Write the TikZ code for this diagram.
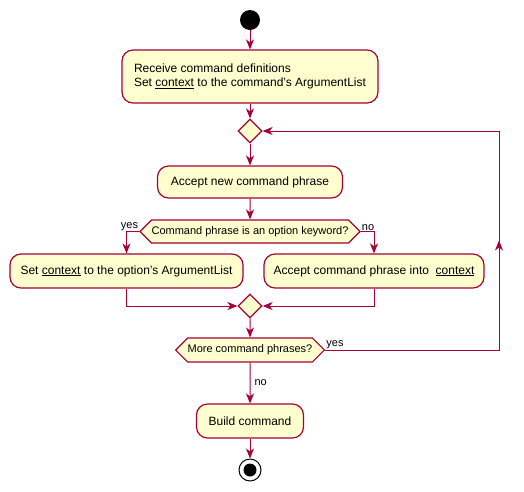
\documentclass[tikz,border=0pt]{standalone}
\usepackage{fontspec}
\setmainfont{Liberation Sans}
\usetikzlibrary{arrows.meta,positioning,calc,shapes.geometric,shapes.symbols}
\definecolor{umlred}{HTML}{A80036}
\definecolor{umlfill}{HTML}{FEFECE}
\tikzset{
  act/.style={draw=umlred, fill=umlfill, line width=1.2pt, rounded corners=11pt,
    inner sep=0pt, font=\fontsize{12}{14}\selectfont},
  branch/.style={draw=umlred, fill=umlfill, line width=1.2pt, diamond, inner sep=0pt,
    minimum width=24pt, minimum height=24pt},
  test/.style={draw=umlred, fill=umlfill, line width=1.2pt, signal, signal to=west and east,
    signal pointer angle=90, inner sep=0pt, font=\fontsize{11}{13}\selectfont},
  flow/.style={draw=umlred, line width=1pt, -{Stealth[length=10pt,width=8pt,inset=3pt]}},
  wire/.style={draw=umlred, line width=1pt},
  lbl/.style={font=\fontsize{11}{13}\selectfont, inner sep=1pt}
}
\begin{document}
\begin{tikzpicture}[x=1pt,y=-1pt]
  \useasboundingbox (0,0) rectangle (524,491);
% Start point
  \node[circle, fill=black, minimum size=20pt, inner sep=0pt] (start) at (250,20) {};
% Read definitions
  \node[act, minimum width=256pt, minimum height=53pt, align=left] (recv) at (250,76.5)
    {Receive command definitions\\Set \underline{context} to the command's ArgumentList};
% Loop entry
  \node[branch] (loop) at (250,131) {};
% Take one phrase
  \node[act, minimum width=185pt, minimum height=32pt] (accept) at (250,182)
    {Accept new command phrase};
% Keyword test
  \node[test, minimum width=217pt, minimum height=23pt] (kw) at (250,231.5)
    {Command phrase is an option keyword?};
% Yes branch
  \node[act, minimum width=233pt, minimum height=34pt] (setctx) at (126.5,271)
    {Set \underline{context} to the option's ArgumentList};
% No branch
  \node[act, minimum width=220pt, minimum height=34pt] (into) at (374,271)
    {Accept command phrase into\ \ \underline{context}};
% Merge
  \node[branch] (merge) at (250,306) {};
% Loop test
  \node[test, minimum width=147pt, minimum height=24pt] (more) at (250,350)
    {More command phrases?};
% Build
  \node[act, minimum width=107pt, minimum height=34pt] (build) at (250,421)
    {Build command};
% End point
  \node[circle, draw=black, fill=white, line width=1pt, minimum size=22pt, inner sep=0pt] (stop) at (250,470) {};
  \fill (stop.center) circle (6.5pt);

% Straight flow
  \draw[flow] (start) -- (recv);
  \draw[flow] (recv) -- (loop);
  \draw[flow] (loop) -- (accept);
  \draw[flow] (accept) -- (kw);
% Split
  \draw[flow] (kw.west) -| (setctx.north);
  \node[lbl, anchor=south east] (yes1) at (kw.west) {yes};
  \draw[flow] (kw.east) -| (into.north);
  \node[lbl, anchor=south west] (no1) at (kw.east) {no};
% Join
  \draw[flow] (setctx.south) |- (merge.west);
  \draw[flow] (into.south) |- (merge.east);
  \draw[flow] (merge) -- (more);
% Back edge
  \coordinate (back) at (499,350);
  \coordinate (backtop) at (499,131);
  \draw[flow] (more.east) -- (back) -- (backtop) -- (loop.east);
  \draw[flow] (back) -- ($(back)!0.5!(backtop)$);
  \node[lbl, anchor=south west] (yes2) at (more.east) {yes};
% Exit
  \draw[flow] (more) -- node[lbl, right=3pt] (no2) {no} (build);
  \draw[flow] (build) -- (stop);
\end{tikzpicture}
\end{document}
